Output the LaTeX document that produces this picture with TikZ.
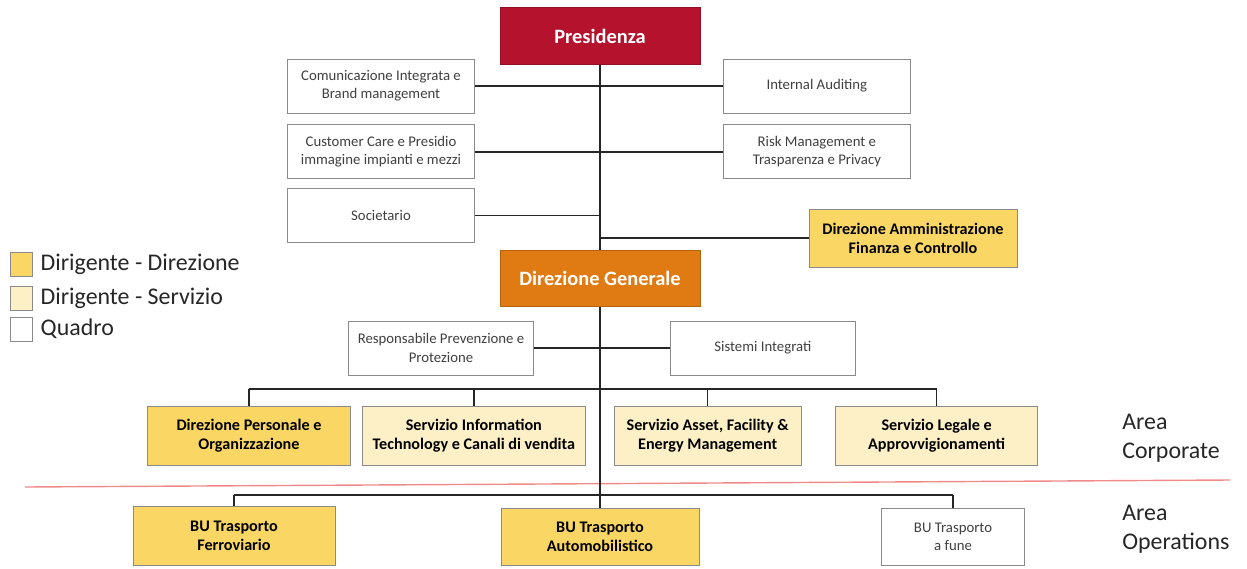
\documentclass[tikz,border=0pt]{standalone}
\usepackage{fontspec}
\setmainfont{Carlito}
\usepackage{tikz}
\usetikzlibrary{positioning,backgrounds}

\definecolor{presred}{HTML}{B5122E}
\definecolor{genorange}{HTML}{E07A12}
\definecolor{dirfill}{HTML}{FAD764}
\definecolor{servfill}{HTML}{FDF0C6}
\definecolor{boxline}{HTML}{8A8A8A}
\definecolor{areared}{HTML}{F08A8A}

\begin{document}
\begin{tikzpicture}[
    node distance=0.25cm and 6.2cm,
    box/.style={draw=boxline, line width=0.6pt, align=center, inner sep=2pt},
    quadro/.style={box, fill=white, minimum width=4.675cm, minimum height=1.35cm, text=black!75, font=\fontsize{10.5}{13}\selectfont},
    direz/.style={box, fill=dirfill, minimum width=5.05cm, minimum height=1.475cm, font=\fontsize{11.5}{13.5}\selectfont\bfseries},
    serv/.style={direz, fill=servfill},
    presid/.style={box, fill=presred, draw=presred!80!black, text=white, minimum width=5cm, minimum height=1.425cm, font=\fontsize{14.5}{16}\selectfont\bfseries},
    legsq/.style={draw=boxline, line width=0.6pt, minimum width=0.55cm, minimum height=0.6cm, inner sep=0pt},
    legtxt/.style={inner sep=0pt, font=\fontsize{17}{20}\selectfont, text=black!85},
    area/.style={anchor=west, align=left, inner sep=0pt, font=\fontsize{17}{20.5}\selectfont, text=black!85},
    link/.style={line width=1pt, black!85},
]
\useasboundingbox (0,0) rectangle (31.175,-14.2);

% Vertice
\node[presid] (pres) at (15,-0.9) {Presidenza};

% Staff della Presidenza
\node[quadro] (com) at (9.525,-2.15) {Comunicazione Integrata e\\Brand management};
\node[quadro, below=0.275cm of com] (cust) {Customer Care e Presidio\\immagine impianti e mezzi};
\node[quadro, below=0.225cm of cust] (soc) {Societario};
\node[quadro, right=of com] (audit) {Internal Auditing};
\node[quadro, right=of cust] (risk) {Risk Management e\\Trasparenza e Privacy};
\node[direz, minimum width=5.2cm, minimum height=1.45cm] (amm) at (22.825,-5.95) {Direzione Amministrazione\\Finanza e Controllo};

% Direzione Generale e staff
\node[presid, fill=genorange, draw=genorange!80!black, minimum height=1.4cm] (gen) at (15,-6.95) {Direzione Generale};
\node[quadro, minimum width=4.625cm] (resp) at (11.025,-8.7) {Responsabile Prevenzione e\\Protezione};
\node[quadro, minimum width=4.625cm, right=3.4cm of resp] (sist) {Sistemi Integrati};

% Area Corporate
\node[direz, minimum width=5.075cm] (pers) at (6.225,-10.9) {Direzione Personale e\\Organizzazione};
\node[serv, minimum width=5.575cm, right=0.275cm of pers] (servit) {Servizio Information\\Technology e Canali di vendita};
\node[serv, minimum width=4.675cm, right=0.7cm of servit] (asset) {Servizio Asset, Facility \&\\Energy Management};
\node[serv, right=0.84cm of asset] (legale) {Servizio Legale e\\Approvvigionamenti};

% Area Operations
\node[direz] (ferro) at (5.85,-13.4) {BU Trasporto\\Ferroviario};
\node[direz, minimum width=4.95cm, minimum height=1.425cm] (auto) at (15,-13.425) {BU Trasporto\\Automobilistico};
\node[quadro, minimum width=3.575cm, minimum height=1.425cm] (fune) at (23.825,-13.425) {BU Trasporto\\a fune};

% Legenda
\node[legsq, fill=dirfill] (legdir) at (0.525,-6.6) {};
\node[legtxt, right=0.2cm of legdir] (legdirt) {Dirigente - Direzione};
\node[legsq, fill=servfill] (legserv) at (0.525,-7.45) {};
\node[legtxt, right=0.2cm of legserv] (legservt) {Dirigente - Servizio};
\node[legsq, fill=white] (legqua) at (0.525,-8.225) {};
\node[legtxt, right=0.2cm of legqua] (legquat) {Quadro};

% Aree
\node[area] (corp) at (28.05,-10.95) {Area\\Corporate};
\node[area] (oper) at (28.05,-13.225) {Area\\Operations};

% Collegamenti
\coordinate (cbus) at (15,-9.725);
\coordinate (obus) at (15,-12.375);
\begin{scope}[on background layer]
\draw[areared, line width=1pt] (0.625,-12.175) coordinate (sepl) -- (30.75,-12.0) coordinate (sepr);
\draw[link] (pres.south) -- (auto.north);
\draw[link] (com.east) -- (audit.west);
\draw[link] (cust.east) -- (risk.west);
\draw[link] (soc.east) -- (soc.east -| pres.south);
\draw[link] (amm.west) -- (amm.west -| pres.south);
\draw[link] (resp.east) -- (sist.west);
\draw[link] (pers.north |- cbus) -- (legale.north |- cbus);
\foreach \n in {pers,servit,asset,legale}
  \draw[link] (\n.north) -- (\n.north |- cbus);
\draw[link] (ferro.north |- obus) -- (fune.north |- obus);
\foreach \n in {ferro,fune}
  \draw[link] (\n.north) -- (\n.north |- obus);
\end{scope}

\end{tikzpicture}
\end{document}
